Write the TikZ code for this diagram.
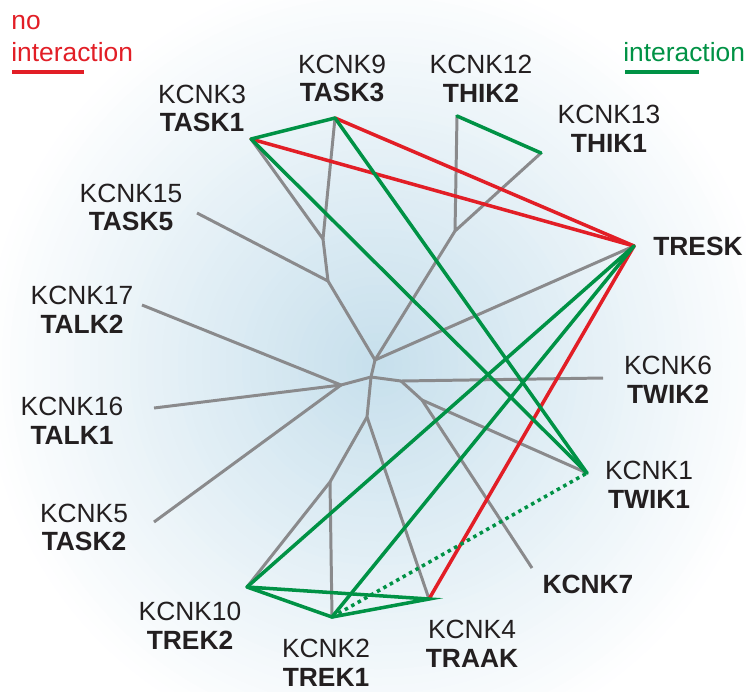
\documentclass[tikz,border=0pt]{standalone}
\usepackage{fontspec}
\setmainfont{Liberation Sans}
\usetikzlibrary{positioning}

\definecolor{kred}{RGB}{226,30,38}
\definecolor{kgreen}{RGB}{0,146,69}
\definecolor{kgray}{RGB}{138,138,140}
\definecolor{ktext}{RGB}{35,31,32}
\definecolor{glow}{RGB}{198,223,236}

\begin{document}
\begin{tikzpicture}[x=0.02cm, y=-0.02cm, node distance=1cm,
    tree/.style={draw=kgray, line width=1.7pt, line join=round},
    interact/.style={draw=kgreen, line width=2pt, line cap=round},
    nointeract/.style={draw=kred, line width=2pt, line cap=round},
    lbl/.style={align=center, inner sep=0pt, text=ktext, font=\fontsize{15pt}{16.4pt}\selectfont},
    boldlbl/.style={lbl, font=\fontsize{15pt}{16.4pt}\selectfont\bfseries}]
    \useasboundingbox (0,0) rectangle (746,691);

    % Background glow
    \begin{scope}
        \clip (0,0) rectangle (746,691);
        \fill[white] (0,0) rectangle (746,691);
        \foreach \r in {400,392,...,8} {
            \pgfmathsetmacro\pct{100*(1-\r/400)}
            \fill[glow!\pct!white] (378,365) circle[radius=\r*0.02cm];
        }
    \end{scope}

    % Leaves
    \coordinate (task1) at (251,139);
    \coordinate (task3) at (335,118);
    \coordinate (thik2) at (457,116);
    \coordinate (thik1) at (541,153);
    \coordinate (tresk) at (634,246);
    \coordinate (task5) at (197,213);
    \coordinate (talk2) at (142,305);
    \coordinate (twik2) at (603,378);
    \coordinate (talk1) at (154,408);
    \coordinate (twik1) at (587,473);
    \coordinate (task2) at (154,522);
    \coordinate (kcnk7) at (532,568);
    \coordinate (trek2) at (247,587);
    \coordinate (trek1) at (332,617);
    \coordinate (traak) at (429,599);

    % Branch points
    \coordinate (j1) at (323,239);
    \coordinate (j2) at (328,281);
    \coordinate (j3) at (455,231);
    \coordinate (j4) at (375,360);
    \coordinate (j5) at (371,377);
    \coordinate (j6) at (341,385);
    \coordinate (j7) at (401,381);
    \coordinate (j8) at (422,400);
    \coordinate (j9) at (367,417);
    \coordinate (j10) at (330,482);

    % Tree
    \draw[tree] (task1) -- (j1) -- (task3);
    \draw[tree] (j1) -- (j2) -- (task5);
    \draw[tree] (thik2) -- (j3) -- (thik1);
    \draw[tree] (j2) -- (j4) -- (j3);
    \draw[tree] (j4) -- (tresk);
    \draw[tree] (j4) -- (j5) -- (j6);
    \draw[tree] (talk2) -- (j6) -- (talk1);
    \draw[tree] (j6) -- (task2);
    \draw[tree] (j5) -- (j7) -- (twik2);
    \draw[tree] (j7) -- (j8) -- (twik1);
    \draw[tree] (j8) -- (kcnk7);
    \draw[tree] (j5) -- (j9) -- (traak);
    \draw[tree] (j9) -- (j10) -- (trek2);
    \draw[tree] (j10) -- (trek1);

    % No interaction
    \draw[nointeract] (task1) -- (tresk);
    \draw[nointeract] (task3) -- (tresk);
    \draw[nointeract] (tresk) -- (traak);

    % Interaction
    \draw[interact] (task1) -- (task3);
    \draw[interact] (task1) -- (twik1);
    \draw[interact] (task3) -- (twik1);
    \draw[interact] (thik2) -- (thik1);
    \draw[interact] (tresk) -- (trek2);
    \draw[interact] (tresk) -- (trek1);
    \draw[interact] (trek2) -- (trek1) -- (traak) -- (trek2);
    \draw[interact, line cap=butt, dash pattern=on 2pt off 2.2pt] (trek1) -- (twik1);

    % Labels
    \node[lbl] (task1-lbl) at (202,108.5) {KCNK3\\\textbf{TASK1}};
    \node[lbl] (task3-lbl) at (342,78.5) {KCNK9\\\textbf{TASK3}};
    \node[lbl] (thik2-lbl) at (481,78.5) {KCNK12\\\textbf{THIK2}};
    \node[lbl] (thik1-lbl) at (609,128.5) {KCNK13\\\textbf{THIK1}};
    \node[boldlbl, right=0.38cm of tresk] (tresk-lbl) {TRESK};
    \node[lbl] (twik2-lbl) at (668,379.5) {KCNK6\\\textbf{TWIK2}};
    \node[lbl] (twik1-lbl) at (649,484.5) {KCNK1\\\textbf{TWIK1}};
    \node[boldlbl] (kcnk7-lbl) at (588,584) {KCNK7};
    \node[lbl] (traak-lbl) at (472,643.5) {KCNK4\\\textbf{TRAAK}};
    \node[lbl] (trek1-lbl) at (326,662.5) {KCNK2\\\textbf{TREK1}};
    \node[lbl] (trek2-lbl) at (190,625.5) {KCNK10\\\textbf{TREK2}};
    \node[lbl] (task2-lbl) at (84,527.5) {KCNK5\\\textbf{TASK2}};
    \node[lbl] (talk1-lbl) at (72,420.5) {KCNK16\\\textbf{TALK1}};
    \node[lbl] (talk2-lbl) at (82,309.5) {KCNK17\\\textbf{TALK2}};
    \node[lbl] (task5-lbl) at (131,207.5) {KCNK15\\\textbf{TASK5}};

    % Legend
    \node[lbl, align=left, text=kred, anchor=south west, font=\fontsize{15pt}{18pt}\selectfont] (no-key) at (11,62) {no\\interaction};
    \node[lbl, text=kgreen, anchor=south west] (yes-key) at (623,62) {interaction};
    \coordinate (no-a) at (12,72);
    \coordinate (no-b) at (84,72);
    \coordinate (yes-a) at (625,72);
    \coordinate (yes-b) at (699,72);
    \draw[kred, line width=2.3pt] (no-a) -- (no-b);
    \draw[kgreen, line width=2.3pt] (yes-a) -- (yes-b);
\end{tikzpicture}
\end{document}
